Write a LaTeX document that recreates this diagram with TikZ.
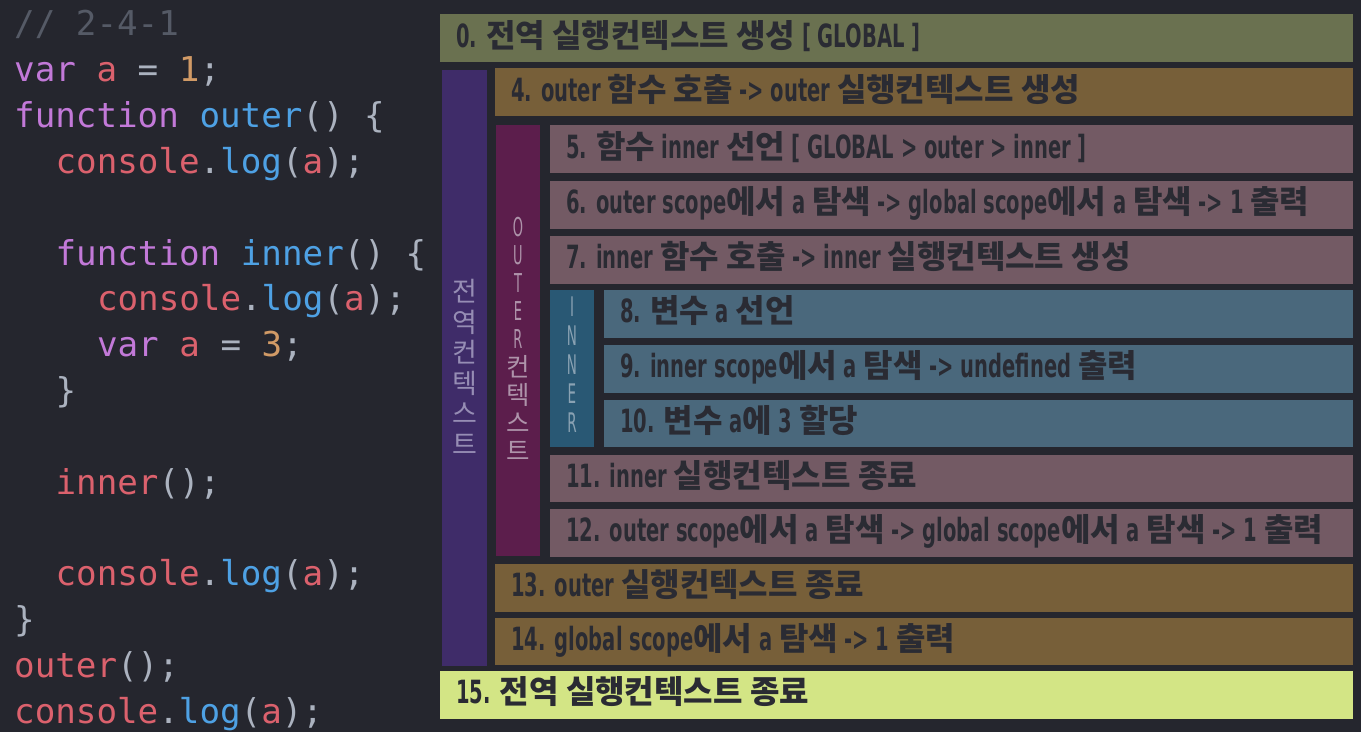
\documentclass[tikz,border=0pt]{standalone}
\usepackage{fontspec}
\usetikzlibrary{calc}
\newfontfamily\cmono{DejaVu Sans Mono}
\newfontfamily\ko[Scale=0.97]{Noto Sans CJK KR}
\newfontfamily\la[FakeStretch=0.61]{DejaVu Sans}
\newfontfamily\kov{Noto Sans CJK KR}
\newfontfamily\lav[FakeStretch=0.5]{DejaVu Sans}
\newcommand\K[1]{{\ko\fontsize{33}{33}\selectfont #1}}
\newcommand\KV[1]{{\kov\fontsize{25.5}{28}\selectfont #1}}
\definecolor{bg}{HTML}{25262E}
\definecolor{cg}{HTML}{6A7150}
\definecolor{cb}{HTML}{775F39}
\definecolor{cm}{HTML}{735A64}
\definecolor{cu}{HTML}{4A687C}
\definecolor{cl}{HTML}{D3E585}
\definecolor{cp}{HTML}{3F2C69}
\definecolor{co}{HTML}{5C1E4C}
\definecolor{ci}{HTML}{295874}
\definecolor{txd}{HTML}{2A2B33}
\definecolor{lp}{HTML}{968DB4}
\definecolor{lo}{HTML}{AE93AA}
\definecolor{li}{HTML}{8AA2B3}
\definecolor{kw}{HTML}{C279D8}
\definecolor{rd}{HTML}{DB616D}
\definecolor{nm}{HTML}{D19A66}
\definecolor{fn}{HTML}{4EA1E4}
\definecolor{pu}{HTML}{ABB2BF}
\definecolor{cmt}{HTML}{555A66}
\newcommand\cK[1]{\textcolor{kw}{#1}}
\newcommand\cR[1]{\textcolor{rd}{#1}}
\newcommand\cN[1]{\textcolor{nm}{#1}}
\newcommand\cF[1]{\textcolor{fn}{#1}}
\newcommand\cP[1]{\textcolor{pu}{#1}}
\tikzset{
  barbox/.style={rectangle, draw=none, inner sep=0pt, outer sep=0pt},
  bartext/.style={inner sep=0pt, text=txd, font=\la\bfseries\fontsize{32}{32}\selectfont},
  codeline/.style={inner sep=0pt, anchor=base west, font=\cmono\fontsize{34.2}{40}\selectfont},
  vlab/.style={inner sep=0pt, align=center}
}
\newcommand\mkbar[6]{%
  \node[barbox, fill=#5, minimum width={1353-#2}, minimum height={#4-#3}, anchor=north west] (#1) at (#2,#3) {};
  \node[bartext, anchor=base west] (#1t) at ($(#1.west)+(16,9)$) {#6};
}
\begin{document}
\begin{tikzpicture}[x=1pt, y=-1pt]
\fill[bg] (0,0) rectangle (1361,732);
\useasboundingbox (0,0) rectangle (1361,732);

% code
\node[codeline] (c0) at (14,35.9) {\textcolor{cmt}{// 2-4-1}};
\node[codeline] (c1) at (14,81.7) {\cK{var} \cR{a} \cP{=} \cN{1}\cP{;}};
\node[codeline] (c2) at (14,127.5) {\cK{function} \cF{outer}\cP{() \{}};
\node[codeline] (c3) at (55.4,173.4) {\cR{console}\cP{.}\cF{log}\cP{(}\cR{a}\cP{);}};
\node[codeline] (c5) at (55.4,265.1) {\cK{function} \cF{inner}\cP{() \{}};
\node[codeline] (c6) at (96.8,310.9) {\cR{console}\cP{.}\cF{log}\cP{(}\cR{a}\cP{);}};
\node[codeline] (c7) at (96.8,356.7) {\cK{var} \cR{a} \cP{=} \cN{3}\cP{;}};
\node[codeline] (c8) at (55.4,402.5) {\cP{\}}};
\node[codeline] (c10) at (55.4,494.2) {\cR{inner}\cP{();}};
\node[codeline] (c12) at (55.4,585.8) {\cR{console}\cP{.}\cF{log}\cP{(}\cR{a}\cP{);}};
\node[codeline] (c13) at (14,631.7) {\cP{\}}};
\node[codeline] (c14) at (14,677.5) {\cR{outer}\cP{();}};
\node[codeline] (c15) at (14,723.3) {\cR{console}\cP{.}\cF{log}\cP{(}\cR{a}\cP{);}};

% vertical context bars
\node[barbox, fill=cp, minimum width=45, minimum height=596, anchor=north west] (vg) at (442,70) {};
\node[barbox, fill=co, minimum width=44, minimum height=431, anchor=north west] (vo) at (496,125) {};
\node[barbox, fill=ci, minimum width=44, minimum height=157, anchor=north west] (vi) at (550,290) {};

\node[vlab, text=lp, font=\kov\fontsize{27}{30.5}\selectfont] (lg) at ($(vg.center)+(0,-1)$) {전\\역\\컨\\텍\\스\\트};
\node[vlab, text=lo, font=\lav\fontsize{26}{28}\selectfont] (lo) at ($(vo.center)+(0,-2)$) {O\\U\\T\\E\\R\\\KV{컨}\\\KV{텍}\\\KV{스}\\\KV{트}};
\node[vlab, text=li, font=\lav\fontsize{27}{29}\selectfont] (lin) at ($(vi.center)+(0,-4)$) {I\\N\\N\\E\\R};

% bars
\mkbar{b0}{440}{14}{62}{cg}{0. \K{전역 실행컨텍스트 생성} [ GLOBAL ]}
\mkbar{b4}{495}{68}{116}{cb}{4. outer \K{함수 호출} -> outer \K{실행컨텍스트 생성}}
\mkbar{b5}{550}{125}{173}{cm}{5. \K{함수} inner \K{선언} [ GLOBAL > outer > inner ]}
\mkbar{b6}{550}{181}{228.5}{cm}{6. outer scope\K{에서} a \K{탐색} -> global scope\K{에서} a \K{탐색} -> 1 \K{출력}}
\mkbar{b7}{550}{236}{283.5}{cm}{7. inner \K{함수 호출} -> inner \K{실행컨텍스트 생성}}
\mkbar{b8}{604}{290}{337.5}{cu}{8. \K{변수} a \K{선언}}
\mkbar{b9}{604}{345}{392.5}{cu}{9. inner scope\K{에서} a \K{탐색} -> undefined \K{출력}}
\mkbar{b10}{604}{400}{447}{cu}{10. \K{변수} a\K{에} 3 \K{할당}}
\mkbar{b11}{550}{454.5}{502}{cm}{11. inner \K{실행컨텍스트 종료}}
\mkbar{b12}{550}{509}{556.5}{cm}{12. outer scope\K{에서} a \K{탐색} -> global scope\K{에서} a \K{탐색} -> 1 \K{출력}}
\mkbar{b13}{495}{564}{611.5}{cb}{13. outer \K{실행컨텍스트 종료}}
\mkbar{b14}{495}{617.5}{665}{cb}{14. global scope\K{에서} a \K{탐색} -> 1 \K{출력}}
\mkbar{b15}{440}{671}{718.5}{cl}{15. \K{전역 실행컨텍스트 종료}}
\end{tikzpicture}
\end{document}
